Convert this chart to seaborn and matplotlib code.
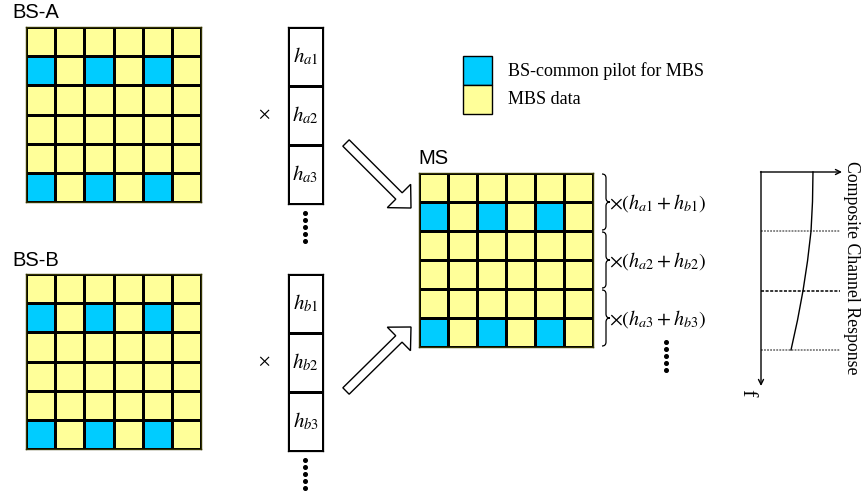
import numpy as np
import matplotlib
matplotlib.use("Agg")
import matplotlib.pyplot as plt
import seaborn as sns
from matplotlib.colors import ListedColormap
from matplotlib.patches import FancyArrow, PathPatch, Rectangle
from matplotlib.path import Path

# resource grid: 6 rows x 6 columns, BS-common pilots at these cells
grid_rows = 6
grid_cols = 6
pilot_rows = [1, 5]
pilot_cols = [0, 2, 4]

# per-subband channel coefficients of each base station
coef_a = ["$h_{a1}$", "$h_{a2}$", "$h_{a3}$"]
coef_b = ["$h_{b1}$", "$h_{b2}$", "$h_{b3}$"]
composite_labels = [r"$\times(h_{a1}+h_{b1})$",
                    r"$\times(h_{a2}+h_{b2})$",
                    r"$\times(h_{a3}+h_{b3})$"]

legend_labels = ["BS-common pilot for MBS", "MBS data"]

# composite channel response down the frequency axis (fraction of axis width)
freq_steps = [0, 0.5, 1, 1.5, 2, 2.5, 3]
channel_response = [0.658, 0.652, 0.633, 0.589, 0.532, 0.462, 0.38]

pilot_color = "#00CCFF"
data_color = "#FFFF99"

plt.rcParams["font.family"] = ["Liberation Serif", "DejaVu Serif"]
plt.rcParams["mathtext.fontset"] = "stix"

W, H = 862, 496
fig = plt.figure(figsize=(W / 100, H / 100), dpi=100)
ax = fig.add_axes([0, 0, 1, 1])
ax.axis("off")


def px_axes(x0, y0, w, h):
    # axes placed in pixel coordinates (origin top-left)
    return fig.add_axes([x0 / W, 1 - (y0 + h) / H, w / W, h / H])


def pilot_matrix():
    mat = np.zeros((grid_rows, grid_cols))
    for r in pilot_rows:
        for c in pilot_cols:
            mat[r, c] = 1
    return mat


def draw_grid(x0, y0, size=175):
    gax = px_axes(x0, y0, size, size)
    sns.heatmap(pilot_matrix(), ax=gax, cmap=ListedColormap([data_color, pilot_color]),
                vmin=0, vmax=1, cbar=False, linewidths=0.75, linecolor="black",
                xticklabels=False, yticklabels=False)
    for s in gax.spines.values():
        s.set_visible(True)
        s.set_linewidth(1.0)
        s.set_color("#333300")


def draw_vector(x0, y0, labels, w=35, h=177):
    vax = px_axes(x0, y0, w, h)
    sns.heatmap(np.zeros((len(labels), 1)), ax=vax, cmap=ListedColormap(["white"]),
                cbar=False, annot=np.array(labels).reshape(-1, 1), fmt="",
                annot_kws={"fontsize": 15, "color": "black"},
                linewidths=0.75, linecolor="black", xticklabels=False, yticklabels=False)
    for s in vax.spines.values():
        s.set_visible(True)
        s.set_linewidth(0.9)


def vdots(x, y0, y1):
    ys = np.arange(y0, y1 + 0.1, 7)
    ax.plot([x] * len(ys), ys, ls="none", marker="o", ms=2.6, color="black")


def brace(x, y0, y1, w=8):
    ym = (y0 + y1) / 2
    xm = x + w * 0.5
    verts = [(x, y0), (xm, y0), (xm, y0 + 4), (xm, ym - 4), (xm, ym), (x + w, ym),
             (xm, ym), (xm, ym + 4), (xm, y1 - 4), (xm, y1), (x, y1)]
    codes = [Path.MOVETO, Path.CURVE3, Path.CURVE3, Path.LINETO, Path.CURVE3, Path.CURVE3,
             Path.CURVE3, Path.CURVE3, Path.LINETO, Path.CURVE3, Path.CURVE3]
    ax.add_patch(PathPatch(Path(verts, codes), fc="none", ec="black", lw=0.9))


# base station grids and their channel vectors
sans = ["Liberation Sans", "DejaVu Sans"]
ax.text(12, 13, "BS-A", family=sans, fontsize=14.5, va="center", ha="left")
ax.text(12, 260, "BS-B", family=sans, fontsize=14.5, va="center", ha="left")
draw_grid(26, 27)
draw_grid(26, 274)
draw_vector(288, 27, coef_a)
draw_vector(288, 274, coef_b)
ax.text(264, 117, "×", fontsize=17, ha="center", va="center")
ax.text(264, 364, "×", fontsize=17, ha="center", va="center")
vdots(305, 213, 241)
vdots(305, 460, 488)

# hollow arrows into the MS grid
for (x, y), (dx, dy) in [((346, 143), (65, 65)), ((346, 391), (65, -64))]:
    ax.add_patch(FancyArrow(x, y, dx, dy, width=9, head_width=33, head_length=17,
                            length_includes_head=True, fc="white", ec="black", lw=1))

# legend
for i, (col, lab) in enumerate(zip([pilot_color, data_color], legend_labels)):
    ax.add_patch(Rectangle((463, 56 + 29 * i), 29, 29, fc=col, ec="black", lw=1))
    ax.text(508, 71 + 29 * i, lab, fontsize=13, va="center", ha="left")

# MS received grid
ax.text(418, 158, "MS", family=sans, fontsize=14.5, va="center", ha="left")
draw_grid(419, 173, size=174)
for i, lab in enumerate(composite_labels):
    y0 = 174 + 58 * i
    brace(602, y0, y0 + 56)
    ax.text(609, y0 + 29, lab, fontsize=14.5, va="center", ha="left")
vdots(666, 342, 370)

# composite channel response sketch
ax.annotate("", xy=(761, 386), xytext=(761, 171.5),
            arrowprops=dict(arrowstyle="->", lw=1, color="black", shrinkA=0, shrinkB=0,
                            mutation_scale=9))
ax.annotate("", xy=(842, 172), xytext=(760.5, 172),
            arrowprops=dict(arrowstyle="->", lw=1, color="black", shrinkA=0, shrinkB=0,
                            mutation_scale=9))
for y, c, ls in [(231, "0.4", (0, (1.2, 0.8))), (291, "black", (0, (2, 1))),
                 (350, "0.4", (0, (1.2, 0.8)))]:
    ax.plot([761, 840], [y, y], color=c, lw=1.1, ls=ls)
sns.lineplot(x=761 + 79 * np.array(channel_response), y=172 + 59.3 * np.array(freq_steps),
             ax=ax, color="black", lw=1, sort=False, estimator=None)
ax.text(747, 393, "f", fontsize=16, rotation=-90, ha="center", va="center")
ax.text(852, 268, "Composite Channel Response", fontsize=12.8, rotation=-90,
        ha="center", va="center")

ax.set_xlim(0, W)
ax.set_ylim(H, 0)
fig.savefig("out.png", dpi=100)
